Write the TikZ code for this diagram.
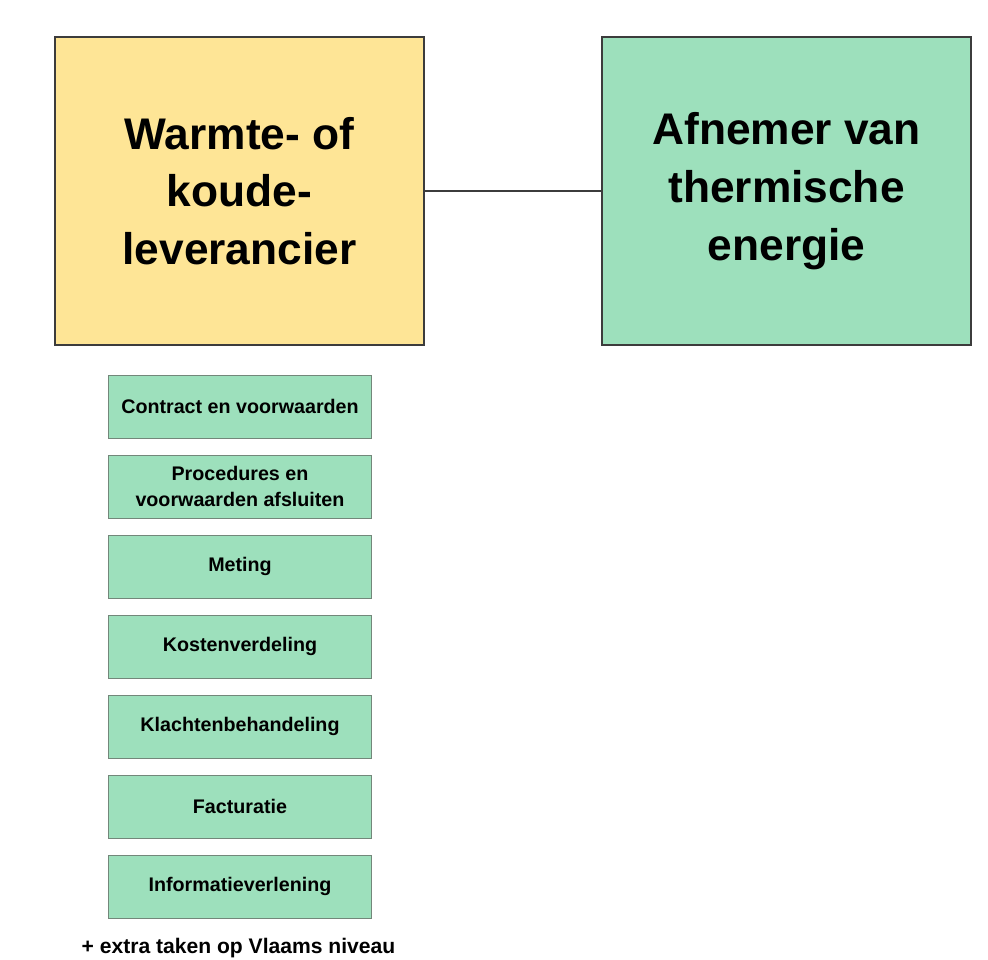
\documentclass[tikz,border=0pt]{standalone}
\usepackage{fontspec}
\setmainfont{Liberation Sans}
\usepackage{tikz}
\usetikzlibrary{positioning}
\definecolor{warmgeel}{RGB}{254,229,150}
\definecolor{afnemergroen}{RGB}{157,224,188}
\definecolor{randgrijs}{RGB}{60,60,60}
\definecolor{taakrand}{RGB}{115,135,122}
\tikzstyle{leverancier}=[rectangle,draw=randgrijs,fill=warmgeel,line width=1.4pt,minimum height=7.7cm,minimum width=9.225cm,align=center,font=\fontsize{31.5}{41}\selectfont\bfseries]
\tikzstyle{afnemer}=[rectangle,draw=randgrijs,fill=afnemergroen,line width=1.4pt,minimum height=7.7cm,minimum width=9.225cm,align=center,font=\fontsize{31.5}{41}\selectfont\bfseries]
\tikzstyle{taak}=[rectangle,draw=taakrand,fill=afnemergroen,line width=0.7pt,minimum height=1.575cm,minimum width=6.55cm,align=center,font=\fontsize{14}{18.4}\selectfont\bfseries]

\begin{document}
\begin{tikzpicture}[x=0.025cm,y=-0.025cm,inner sep=1mm]
	\def \vtaak {80};
	\def \ytaak {406.5};

	\useasboundingbox (0,0) rectangle (988,960);

	\node[leverancier] (lev) at (239.5,191) {Warmte- of\\koude-\\leverancier};
	\node[afnemer] (afn) at (786.5,191) {Afnemer van\\thermische\\energie};
	\draw[-,line width=1.4pt,randgrijs] (lev) -- (afn);

	\foreach \i/\tekst in {1/{Contract en voorwaarden},2/{Procedures en\\voorwaarden afsluiten},3/{Meting},4/{Kostenverdeling},5/{Klachtenbehandeling},6/{Facturatie},7/{Informatieverlening}} {
		\node[taak] (taak\i) at (240, \ytaak+\i*\vtaak-\vtaak) {\tekst};
	};

	\node[font=\fontsize{15}{17}\selectfont\bfseries] (extra) at (238.5,948) {+ extra taken op Vlaams niveau};
\end{tikzpicture}
\end{document}
